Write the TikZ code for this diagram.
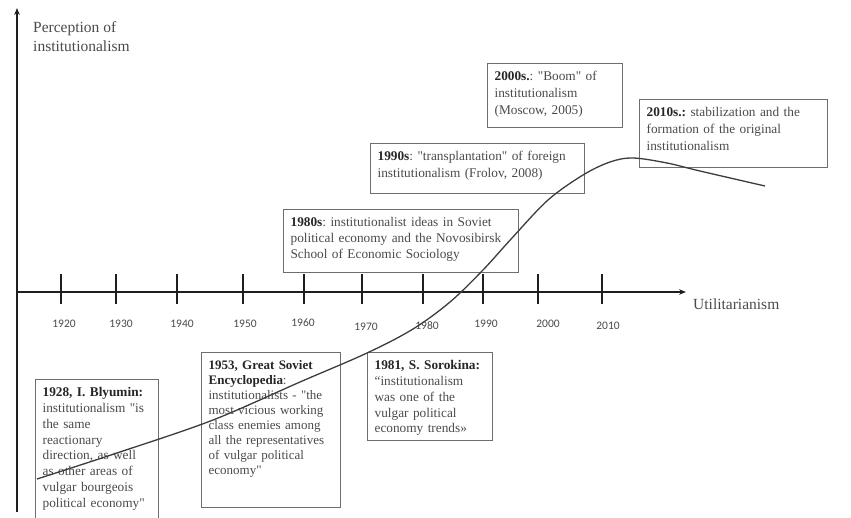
\documentclass[tikz,border=0pt]{standalone}
\usepackage{fontspec}
\setmainfont{Liberation Serif}
\newfontfamily\plainserif{Liberation Serif}
\newfontfamily\yearfont{Carlito}
\usetikzlibrary{arrows.meta}
\definecolor{txt}{HTML}{4A4A4A}
\definecolor{boldc}{HTML}{262626}
\definecolor{boxc}{HTML}{6E6E6E}
\definecolor{curvec}{HTML}{3C3C3C}
\definecolor{axisc}{HTML}{1E1E1E}
\newcommand{\hl}[1]{\textbf{\textcolor{boldc}{#1}}}
\frenchspacing
\begin{document}
\begin{tikzpicture}[x=1pt,y=-1pt,
  tbox/.style={draw=boxc, line width=1.2pt, anchor=north west, inner xsep=7pt, inner ysep=5pt,
    text=txt, font=\plainserif\fontsize{13.3}{15.8}\selectfont, align=left, text height=12pt},
  axisline/.style={draw=axisc, line width=1.4pt, -{Stealth[length=7pt,width=5.5pt]}},
  tickline/.style={draw=axisc, line width=1.3pt},
  yr/.style={font=\yearfont\fontsize{11.5}{13}\selectfont, text=txt, inner sep=0pt},
  lab/.style={font=\plainserif\fontsize{15.5}{19}\selectfont, text=txt, align=left, inner sep=0pt},
  curveline/.style={draw=curvec, line width=1.3pt}]
\useasboundingbox (0,0) rectangle (851,517);

% axes
\coordinate (o) at (17,292);
\coordinate (ybot) at (17,512);
\coordinate (ytop) at (17,8);
\coordinate (xend) at (686,292);
\draw[axisline] (ybot) -- (ytop);
\draw[axisline] (o) -- (xend);

\node[lab, anchor=north west] (ylab) at (33,21) {Perception of\\institutionalism};
\node[lab, anchor=west] (xlab) at (693,304) {Utilitarianism};

% ticks
\foreach \t in {61,116,177,243,304,362,423,483,538,602}
  \draw[tickline] (\t,274) -- (\t,304);

% years
\node[yr] (y1920) at (64,324) {1920};
\node[yr] (y1930) at (121,324) {1930};
\node[yr] (y1940) at (182,324) {1940};
\node[yr] (y1950) at (245,324) {1950};
\node[yr] (y1960) at (303,323) {1960};
\node[yr] (y1970) at (366,327) {1970};
\node[yr] (y1980) at (427,326) {1980};
\node[yr] (y1990) at (486,324) {1990};
\node[yr] (y2000) at (548,324) {2000};
\node[yr] (y2010) at (608,326) {2010};

% boxes
\node[tbox, text width=109pt, text depth=121pt] (b1928) at (35,379)
  {\hl{1928, I. Blyumin:}\\institutionalism "is\\the same\\reactionary\\direction, as well\\as other areas of\\vulgar bourgeois\\political economy"};
\node[tbox, text width=125pt, text depth=133pt, font=\plainserif\fontsize{13}{15}\selectfont] (b1953) at (201,352)
  {\hl{1953, Great Soviet}\\\hl{Encyclopedia}:\\institutionalists - "the\\most vicious working\\class enemies among\\all the representatives\\of vulgar political\\economy"};
\node[tbox, text width=111pt, text depth=66pt] (b1981) at (367,352)
  {\hl{1981, S. Sorokina:}\\“institutionalism\\was one of the\\vulgar political\\economy trends»};
\node[tbox, text width=221pt, text depth=41pt, font=\plainserif\fontsize{13.3}{16}\selectfont] (b1980s) at (283,209)
  {\hl{1980s}: institutionalist ideas in Soviet\\political economy and the Novosibirsk\\School of Economic Sociology};
\node[tbox, text width=200pt, text depth=28pt, font=\plainserif\fontsize{13.3}{17}\selectfont] (b1990s) at (370,143)
  {\hl{1990s}: "transplantation" of foreign\\institutionalism (Frolov, 2008)};
\node[tbox, text width=121pt, text depth=42pt, font=\plainserif\fontsize{13.3}{17}\selectfont] (b2000s) at (487,63)
  {\hl{2000s.}: "Boom" of\\institutionalism\\(Moscow, 2005)};
\node[tbox, text width=174pt, text depth=46pt, font=\plainserif\fontsize{13.3}{17}\selectfont] (b2010s) at (639,99)
  {\hl{2010s.:} stabilization and the\\formation of the original\\institutionalism};

% curve
\draw[curveline] plot[smooth, tension=0.55] coordinates {
  (37,479) (120,452) (213,420) (300,382) (367,353) (413,329) (450,302) (483,270)
  (512,238) (548,200) (583,175) (610,162) (633,158) (667,163) (700,171) (765,186)};
\end{tikzpicture}
\end{document}
